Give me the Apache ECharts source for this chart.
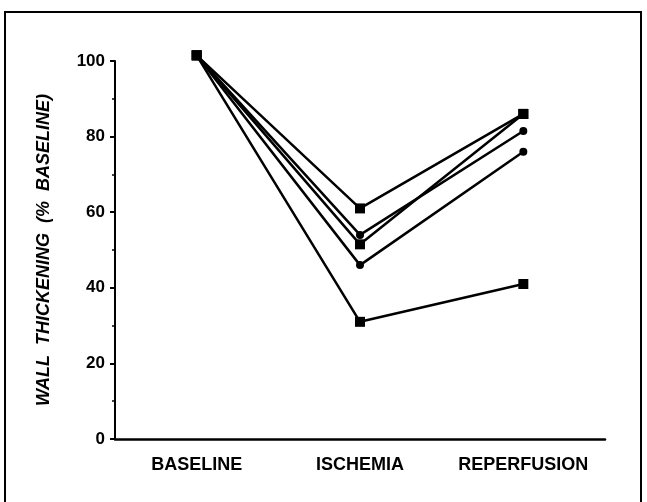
<!DOCTYPE html>
<html>
<head>
<meta charset="utf-8">
<script src="https://cdn.jsdelivr.net/npm/echarts@6/dist/echarts.min.js"></script>
<style>
  html, body { margin: 0; padding: 0; background: #fff; }
  #chart { width: 647px; height: 502px; }
</style>
</head>
<body>
<div id="chart"></div>
<script>
// categories along the x axis
var phases = ['BASELINE', 'ISCHEMIA', 'REPERFUSION']
var yTicks = [0, 20, 40, 60, 80, 100]

// one array per animal
var dogA = [101.5, 61, 86]   // squares
var dogB = [101.5, 54, 81.5] // circles
var dogC = [101.5, 51.5, 86] // squares
var dogD = [101.5, 46, 76]   // circles
var dogE = [101.5, 31, 41]   // squares

var lineSeries = [
  { data: dogA, symbol: 'rect' },
  { data: dogB, symbol: 'circle' },
  { data: dogC, symbol: 'rect' },
  { data: dogD, symbol: 'circle' },
  { data: dogE, symbol: 'rect' }
]

var chart = echarts.init(document.getElementById('chart'))
var font = '"Liberation Sans", Arial, sans-serif'

chart.setOption({
  animation: false,
  backgroundColor: '#fff',
  graphic: [{
    type: 'rect',
    shape: { x: 5, y: 12, width: 636, height: 500 },
    style: { fill: 'none', stroke: '#000', lineWidth: 2 }
  }],
  grid: {
    left: 115,
    right: 42,
    top: 61,
    bottom: 63
  },
  xAxis: {
    type: 'category',
    data: phases,
    boundaryGap: true,
    axisLine: { lineStyle: { color: '#000', width: 2.5 } },
    axisTick: { alignWithLabel: true, length: 4, lineStyle: { color: '#000', width: 2 } },
    axisLabel: {
      interval: 0,
      color: '#000',
      fontFamily: font,
      fontWeight: 'bold',
      fontSize: 18,
      margin: 17
    }
  },
  yAxis: {
    type: 'value',
    min: yTicks[0],
    max: yTicks[yTicks.length - 1],
    interval: 20,
    name: 'WALL  THICKENING  (%  BASELINE)',
    nameLocation: 'middle',
    nameGap: 62,
    nameTextStyle: {
      color: '#000',
      fontFamily: font,
      fontWeight: 'bold',
      fontStyle: 'italic',
      fontSize: 18
    },
    splitLine: { show: false },
    axisLine: { show: true, lineStyle: { color: '#000', width: 2 } },
    axisTick: { show: true, length: 5, lineStyle: { color: '#000', width: 2 } },
    minorTick: { show: true, splitNumber: 2, length: 3, lineStyle: { color: '#000', width: 1.5 } },
    axisLabel: {
      color: '#000',
      fontFamily: font,
      fontWeight: 'bold',
      fontSize: 17,
      margin: 10
    }
  },
  series: lineSeries.map(function (s) {
    return {
      type: 'line',
      data: s.data,
      symbol: s.symbol,
      symbolSize: s.symbol === 'rect' ? 10 : 8,
      clip: false,
      lineStyle: { color: '#000', width: 2.5 },
      itemStyle: { color: '#000' }
    }
  })
})
</script>
</body>
</html>
